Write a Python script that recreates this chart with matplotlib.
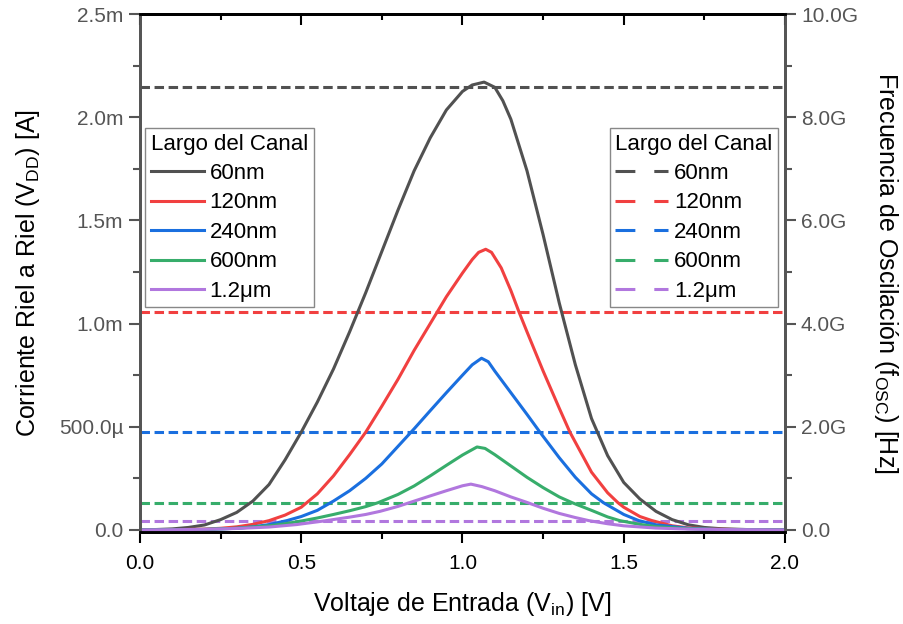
import matplotlib
matplotlib.use('Agg')
import matplotlib.pyplot as plt
from matplotlib.lines import Line2D
from matplotlib.ticker import FixedLocator, FixedFormatter, MultipleLocator

plt.rcParams['font.family'] = ['Liberation Sans', 'DejaVu Sans']
plt.rcParams['mathtext.fontset'] = 'custom'
plt.rcParams['mathtext.rm'] = 'Liberation Sans'
plt.rcParams['mathtext.it'] = 'Liberation Sans:italic'

# corriente riel a riel (mA) vs Vin (V)
x_60 = [0.0, 0.05, 0.1, 0.15, 0.2, 0.25, 0.3, 0.35, 0.4, 0.45, 0.5, 0.55, 0.6, 0.65, 0.7,
        0.75, 0.8, 0.85, 0.9, 0.95, 1.0, 1.03, 1.067, 1.1, 1.125, 1.15, 1.2, 1.25, 1.3, 1.35,
        1.4, 1.45, 1.5, 1.55, 1.6, 1.65, 1.7, 1.75, 1.8, 1.9, 2.0]
y_60 = [0.0, 0.002, 0.005, 0.012, 0.024, 0.05, 0.085, 0.14, 0.22, 0.34, 0.474, 0.62, 0.78,
        0.96, 1.15, 1.35, 1.55, 1.74, 1.90, 2.035, 2.125, 2.156, 2.17, 2.145, 2.08, 1.99,
        1.74, 1.43, 1.10, 0.80, 0.54, 0.36, 0.23, 0.15, 0.09, 0.05, 0.025, 0.012, 0.006,
        0.001, 0.0]

x_120 = [0.0, 0.1, 0.2, 0.25, 0.3, 0.35, 0.4, 0.45, 0.5, 0.55, 0.6, 0.65, 0.7, 0.75, 0.8,
         0.85, 0.9, 0.95, 1.0, 1.03, 1.05, 1.072, 1.09, 1.12, 1.15, 1.175, 1.2, 1.25, 1.3,
         1.333, 1.4, 1.45, 1.482, 1.5, 1.55, 1.588, 1.65, 1.7, 1.8, 1.9, 2.0]
y_120 = [0.0, 0.001, 0.004, 0.008, 0.015, 0.027, 0.045, 0.072, 0.11, 0.175, 0.262, 0.365,
         0.474, 0.60, 0.73, 0.87, 1.00, 1.13, 1.245, 1.31, 1.345, 1.36, 1.345, 1.27, 1.16,
         1.057, 0.96, 0.77, 0.59, 0.474, 0.28, 0.18, 0.132, 0.11, 0.065, 0.045, 0.02, 0.01,
         0.003, 0.001, 0.0]

x_240 = [0.0, 0.1, 0.2, 0.3, 0.35, 0.4, 0.455, 0.5, 0.55, 0.6, 0.65, 0.7, 0.75, 0.8, 0.85,
         0.9, 0.95, 1.0, 1.03, 1.059, 1.08, 1.1, 1.15, 1.2, 1.24, 1.3, 1.35, 1.4, 1.437, 1.5,
         1.547, 1.6, 1.7, 1.8, 2.0]
y_240 = [0.0, 0.001, 0.002, 0.008, 0.015, 0.026, 0.045, 0.065, 0.095, 0.14, 0.19, 0.25, 0.32,
         0.405, 0.49, 0.578, 0.665, 0.75, 0.80, 0.832, 0.815, 0.77, 0.665, 0.56, 0.474, 0.35,
         0.255, 0.175, 0.132, 0.075, 0.045, 0.025, 0.008, 0.002, 0.0]

x_600 = [0.0, 0.1, 0.2, 0.3, 0.4, 0.45, 0.506, 0.55, 0.6, 0.65, 0.7, 0.738, 0.8, 0.85, 0.9,
         0.95, 1.0, 1.045, 1.07, 1.1, 1.15, 1.2, 1.25, 1.3, 1.34, 1.4, 1.45, 1.488, 1.55, 1.6,
         1.7, 1.8, 2.0]
y_600 = [0.0, 0.001, 0.003, 0.008, 0.02, 0.03, 0.045, 0.058, 0.075, 0.093, 0.113, 0.132, 0.172,
         0.213, 0.262, 0.313, 0.363, 0.402, 0.395, 0.365, 0.31, 0.255, 0.205, 0.16, 0.132,
         0.095, 0.063, 0.045, 0.027, 0.016, 0.006, 0.002, 0.0]

x_1u2 = [0.0, 0.1, 0.2, 0.3, 0.4, 0.486, 0.568, 0.65, 0.7, 0.744, 0.8, 0.837, 0.9, 0.95, 1.0,
         1.026, 1.06, 1.1, 1.15, 1.197, 1.25, 1.3, 1.35, 1.392, 1.45, 1.5, 1.6, 1.7, 1.8, 2.0]
y_1u2 = [0.0, 0.001, 0.003, 0.007, 0.014, 0.026, 0.043, 0.062, 0.075, 0.09, 0.114, 0.133,
         0.165, 0.19, 0.214, 0.222, 0.21, 0.19, 0.16, 0.135, 0.105, 0.08, 0.06, 0.045, 0.03,
         0.02, 0.009, 0.004, 0.002, 0.0]

# frecuencia de oscilacion (GHz)
f_osc = [8.59, 4.23, 1.89, 0.53, 0.18]

labels = ['60nm', '120nm', '240nm', '600nm', '1.2μm']
colors = ['#515151', '#F14040', '#1A6FDF', '#37AD6B', '#B177DE']

yl_ticks = [0, 0.5, 1.0, 1.5, 2.0, 2.5]
yl_labels = ['0.0', '500.0µ', '1.0m', '1.5m', '2.0m', '2.5m']
yr_ticks = [0, 2, 4, 6, 8, 10]
yr_labels = ['0.0', '2.0G', '4.0G', '6.0G', '8.0G', '10.0G']
x_ticks = [0.0, 0.5, 1.0, 1.5, 2.0]

xs = [x_60, x_120, x_240, x_600, x_1u2]
ys = [y_60, y_120, y_240, y_600, y_1u2]

gray = '#555555'
fig = plt.figure(figsize=(9.04, 6.24), dpi=100)
ax = fig.add_axes([140 / 904, 1 - 532 / 624, 645 / 904, 518 / 624])
ax2 = ax.twinx()

for xv, yv, c, lab in zip(xs, ys, colors, labels):
    ax.plot(xv, [v * 1e-3 for v in yv], color=c, lw=2.2, label=lab,
            solid_joinstyle='round')

for f, c in zip(f_osc, colors):
    ax2.axhline(f * 1e9, color=c, lw=2.2, dashes=(3.1, 1.5))

ax.set_zorder(ax2.get_zorder() + 1)
ax.patch.set_visible(False)

ax.set_xlim(0, 2.0)
ax.set_ylim(-0.01e-3, 2.5e-3)
ax2.set_ylim(-0.04e9, 10e9)

ax.xaxis.set_major_locator(FixedLocator(x_ticks))
ax.xaxis.set_minor_locator(MultipleLocator(0.25))
ax.xaxis.set_major_formatter(FixedFormatter(['%.1f' % v for v in x_ticks]))
ax.yaxis.set_major_locator(FixedLocator([v * 1e-3 for v in yl_ticks]))
ax.yaxis.set_major_formatter(FixedFormatter(yl_labels))
ax.yaxis.set_minor_locator(MultipleLocator(0.25e-3))
ax2.yaxis.set_major_locator(FixedLocator([v * 1e9 for v in yr_ticks]))
ax2.yaxis.set_major_formatter(FixedFormatter(yr_labels))
ax2.yaxis.set_minor_locator(MultipleLocator(1e9))

ax.tick_params(axis='x', which='major', direction='out', length=8, width=1.5, labelsize=15,
               colors='black', pad=8)
ax.tick_params(axis='x', which='minor', direction='out', length=5, width=1.5)
ax.tick_params(axis='y', which='major', direction='out', length=8, width=1.5, labelsize=15,
               color=gray, labelcolor=gray, pad=4)
ax.tick_params(axis='y', which='minor', direction='out', length=5, width=1.5, color=gray)
ax2.tick_params(axis='y', which='major', direction='out', length=8, width=1.5, labelsize=15,
                color=gray, labelcolor=gray)
ax2.tick_params(axis='y', which='minor', direction='out', length=5, width=1.5, color=gray)

top = ax.secondary_xaxis('top')
top.xaxis.set_major_locator(FixedLocator(x_ticks))
top.xaxis.set_minor_locator(MultipleLocator(0.25))
top.tick_params(which='major', direction='in', length=8, width=1.5, labeltop=False)
top.tick_params(which='minor', direction='in', length=4, width=1.5)
top.spines['top'].set_linewidth(2)

for a in (ax, ax2):
    a.spines['bottom'].set_linewidth(2)
    a.spines['top'].set_linewidth(2)
    a.spines['left'].set_color(gray)
    a.spines['right'].set_color(gray)
    a.spines['left'].set_linewidth(2)
    a.spines['right'].set_linewidth(2)

ax.set_xlabel('Voltaje de Entrada (V$_{\\mathrm{in}}$) [V]', fontsize=18, labelpad=12)
ax.set_ylabel('Corriente Riel a Riel (V$_{\\mathrm{DD}}$) [A]', fontsize=18, labelpad=12)
ax2.set_ylabel('Frecuencia de Oscilación (f$_{\\mathrm{OSC}}$) [Hz]', fontsize=18,
               rotation=270, labelpad=30)

leg_kw = dict(fontsize=16, title='Largo del Canal', title_fontsize=16, alignment='left',
              fancybox=False, framealpha=1, edgecolor='#888888', handlelength=2.4,
              handletextpad=0.25, labelspacing=0.38, borderpad=0.25, borderaxespad=0)
leg1 = ax.legend(loc='upper left', bbox_to_anchor=(0.008, 0.78), **leg_kw)
leg1.get_frame().set_linewidth(1.0)

handles = [Line2D([], [], color=c, lw=2.2, dashes=(6.5, 6.2)) for c in colors]
leg2 = ax2.legend(handles, labels, loc='upper right', bbox_to_anchor=(0.989, 0.78), **leg_kw)
leg2.get_frame().set_linewidth(1.0)

fig.savefig('out.png', dpi=100)
